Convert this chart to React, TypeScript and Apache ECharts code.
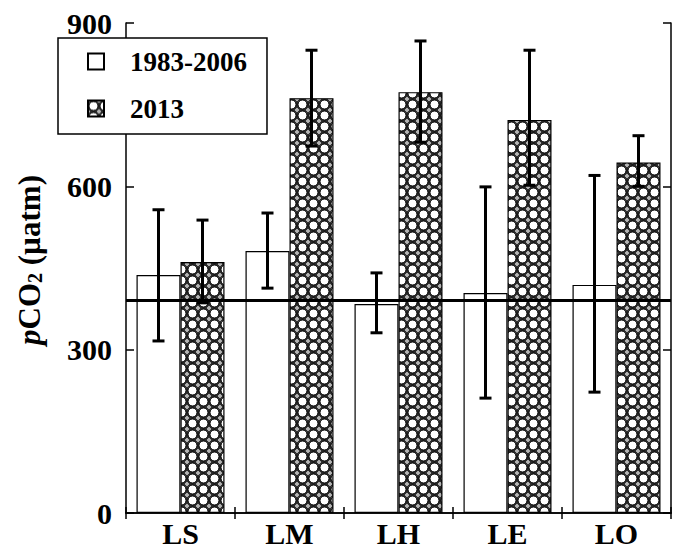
import React, { useEffect, useRef } from 'react';
import * as echarts from 'echarts';

const categories = ['LS', 'LM', 'LH', 'LE', 'LO'];
const seriesNames = ['1983-2006', '2013'];
const values1983 = [437, 481, 384, 404, 419];
const low1983 = [316, 413, 331, 211, 222];
const high1983 = [557, 551, 441, 599, 620];
const values2013 = [461, 762, 773, 722, 644];
const low2013 = [386, 674, 681, 602, 600];
const high2013 = [538, 850, 867, 850, 693];
const referenceLevel = 391;
const yMin = 0;
const yMax = 900;
const yInterval = 300;

const FONT = "'Liberation Serif', 'Times New Roman', serif";
const BAR_W = 44;

function makePatternCanvas(): HTMLCanvasElement {
  const s = 11;
  const c = document.createElement('canvas');
  c.width = s;
  c.height = s;
  const ctx = c.getContext('2d')!;
  ctx.fillStyle = '#2a2a2a';
  ctx.fillRect(0, 0, s, s);
  ctx.beginPath();
  ctx.arc(s / 2, s / 2, 4.5, 0, Math.PI * 2);
  ctx.fillStyle = '#fff';
  ctx.fill();
  ctx.lineWidth = 1;
  ctx.strokeStyle = '#000';
  ctx.stroke();
  const corners = [[0, 0], [s, 0], [0, s], [s, s]];
  for (const [cx, cy] of corners) {
    ctx.beginPath();
    ctx.moveTo(cx - 2.2, cy);
    ctx.lineTo(cx, cy - 2.2);
    ctx.lineTo(cx + 2.2, cy);
    ctx.lineTo(cx, cy + 2.2);
    ctx.closePath();
    ctx.fillStyle = '#e0e0e0';
    ctx.fill();
    ctx.fillStyle = '#333';
    ctx.fillRect(cx - 0.5, cy - 0.5, 1, 1);
  }
  return c;
}

export default function App() {
  const ref = useRef<HTMLDivElement>(null);

  useEffect(() => {
    if (!ref.current) return;
    const chart = echarts.init(ref.current, null, { renderer: 'svg' });
    const canvas = makePatternCanvas();
    const pattern: any = {
      image: canvas.toDataURL(),
      repeat: 'repeat',
      imageWidth: 11,
      imageHeight: 11,
    };

    const errData = (lows: number[], highs: number[]) =>
      categories.map((_, i) => [i, lows[i], highs[i]]);

    const errRender = (offset: number) => (params: any, api: any) => {
      const idx = api.value(0);
      const x = api.coord([idx, 0])[0] + offset;
      const yl = api.coord([idx, api.value(1)])[1];
      const yh = api.coord([idx, api.value(2)])[1];
      const style = { stroke: '#000', lineWidth: 3 };
      const cap = 6;
      return {
        type: 'group',
        children: [
          { type: 'line', shape: { x1: x, y1: yl, x2: x, y2: yh }, style },
          { type: 'line', shape: { x1: x - cap, y1: yh, x2: x + cap, y2: yh }, style },
          { type: 'line', shape: { x1: x - cap, y1: yl, x2: x + cap, y2: yl }, style },
        ],
      };
    };

    const axisLine = { show: true, lineStyle: { color: '#000', width: 1.5 } };

    chart.setOption({
      animation: false,
      backgroundColor: '#fff',
      textStyle: { fontFamily: FONT },
      grid: { left: 126, right: 4, top: 23, bottom: 42, containLabel: false },
      legend: {
        data: seriesNames,
        orient: 'vertical',
        left: 58,
        top: 38,
        backgroundColor: '#fff',
        borderColor: '#000',
        borderWidth: 1.5,
        borderRadius: 0,
        padding: [10, 20, 12, 29],
        itemWidth: 16,
        itemHeight: 16,
        itemGap: 20,
        icon: 'rect',
        selectedMode: false,
        textStyle: {
          fontFamily: FONT,
          fontWeight: 'bold',
          fontSize: 27,
          color: '#000',
          lineHeight: 27,
          padding: [0, 0, 0, 21],
        },
      },
      xAxis: [
        {
          type: 'category',
          data: categories,
          position: 'bottom',
          axisLine,
          axisTick: { show: true, inside: true, length: 6, lineStyle: { color: '#000', width: 1.5 } },
          axisLabel: { color: '#000', fontFamily: FONT, fontWeight: 'bold', fontSize: 30, margin: 5 },
          splitLine: { show: false },
        },
        {
          type: 'category',
          data: categories,
          position: 'top',
          axisLine,
          axisTick: { show: true, inside: true, length: 6, lineStyle: { color: '#000', width: 1.5 } },
          axisLabel: { show: false },
          splitLine: { show: false },
        },
      ],
      yAxis: [
        {
          type: 'value',
          min: yMin,
          max: yMax,
          interval: yInterval,
          position: 'left',
          axisLine,
          axisTick: { show: true, inside: true, length: 8, lineStyle: { color: '#000', width: 1.5 } },
          axisLabel: { color: '#000', fontFamily: FONT, fontWeight: 'bold', fontSize: 30, margin: 14 },
          splitLine: { show: false },
        },
        {
          type: 'value',
          min: yMin,
          max: yMax,
          interval: yInterval,
          position: 'right',
          axisLine,
          axisTick: { show: true, inside: true, length: 8, lineStyle: { color: '#000', width: 1.5 } },
          axisLabel: { show: false },
          splitLine: { show: false },
        },
      ],
      series: [
        {
          name: seriesNames[0],
          type: 'bar',
          data: values1983,
          barWidth: BAR_W,
          barGap: '0%',
          itemStyle: { color: '#fff', borderColor: '#000', borderWidth: 1.2 },
          z: 2,
        },
        {
          name: seriesNames[1],
          type: 'bar',
          data: values2013,
          barWidth: BAR_W,
          barGap: '0%',
          itemStyle: { color: pattern, borderColor: '#000', borderWidth: 1.2 },
          z: 2,
        },
        {
          type: 'custom',
          name: 'err1983',
          data: errData(low1983, high1983),
          encode: { x: 0, y: [1, 2] },
          renderItem: errRender(-BAR_W / 2),
          z: 5,
          markLine: {
            silent: true,
            symbol: 'none',
            label: { show: false },
            lineStyle: { color: '#000', width: 3, type: 'solid' },
            data: [{ yAxis: referenceLevel }],
          },
        },
        {
          type: 'custom',
          name: 'err2013',
          data: errData(low2013, high2013),
          encode: { x: 0, y: [1, 2] },
          renderItem: errRender(BAR_W / 2),
          z: 5,
        },
      ],
      graphic: [
        {
          type: 'text',
          x: 29,
          y: 260,
          rotation: Math.PI / 2,
          style: {
            text: '{i|p}{n|CO}{s|2}{n| (µatm)}',
            align: 'center',
            verticalAlign: 'middle',
            rich: {
              i: { fontFamily: FONT, fontWeight: 'bold', fontStyle: 'italic', fontSize: 31, fill: '#000', lineHeight: 32 },
              n: { fontFamily: FONT, fontWeight: 'bold', fontSize: 31, fill: '#000', lineHeight: 32 },
              s: { fontFamily: FONT, fontWeight: 'bold', fontSize: 20, fill: '#000', lineHeight: 32, verticalAlign: 'bottom' },
            },
          },
        },
      ],
    } as any);

    return () => chart.dispose();
  }, []);

  return (
    <div
      ref={ref}
      style={{ position: 'absolute', left: 0, top: 0, width: 675, height: 555 }}
    />
  );
}
